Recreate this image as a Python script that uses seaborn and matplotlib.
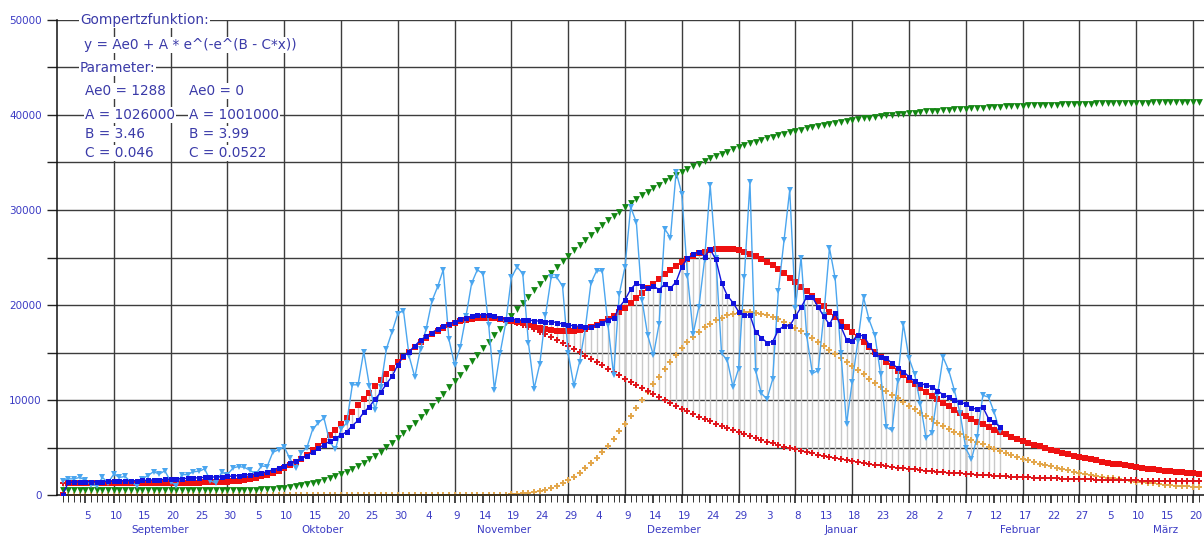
import numpy as np
import pandas as pd
import matplotlib
matplotlib.use("Agg")
import matplotlib.pyplot as plt
import matplotlib.transforms as mtransforms
import seaborn as sns

# ---------------- data ----------------
# day index: 1 = 1 September 2020
daily_cases = [
    1500, 1700, 1700, 1850, 1550, 1100, 950, 1850, 1300, 2200,
    1850, 1950, 1350, 1000, 1700, 2050, 2450, 2200, 2550, 1400,
    1000, 2150, 2150, 2450, 2500, 2750, 1500, 1250, 2400, 2150,
    2850, 3000, 2900, 2600, 2200, 3050, 3000, 4500, 4750, 5050,
    3850, 2800, 4450, 5000, 6900, 7600, 8100, 5600, 4800, 6900,
    7600, 11600, 11600, 15100, 11500, 9000, 11400, 15400, 17200, 19100,
    19400, 14600, 12400, 15400, 17500, 20400, 21900, 23700, 16400, 13700,
    15600, 18800, 22300, 23700, 23300, 17900, 11100, 14900, 18100, 22900,
    24000, 23300, 16000, 11200, 13800, 18900, 22900, 22900, 22000, 14900,
    11500, 14000, 17500, 22300, 23600, 23600, 17900, 12600, 21200, 24000,
    30300, 28700, 20500, 16800, 14700, 18000, 28000, 27100, 34000, 31700,
    23100, 17000, 19800, 24700, 32600, 24900, 14900, 14200, 11400, 13300,
    22900, 32900, 13100, 10700, 10100, 12200, 21500, 26800, 32100, 19700,
    25000, 16700, 12800, 13100, 18900, 26000, 22800, 15000, 7500, 11900,
    16200, 20800, 18400, 16800, 12700, 7150, 6800, 12000, 18000, 14400,
    12700, 9600, 6000, 6500, 10500, 14500, 13100, 11000, 8600, 4900,
    3750, 6100, 10500, 10300, 8700, 6700,
]

avg7 = [
    0, 1350, 1350, 1380, 1400, 1400, 1400, 1420, 1430, 1450,
    1480, 1500, 1500, 1500, 1530, 1560, 1600, 1630, 1660, 1680,
    1700, 1720, 1750, 1780, 1820, 1860, 1880, 1900, 1930, 1950,
    2000, 2050, 2100, 2150, 2200, 2300, 2450, 2650, 2850, 3100,
    3350, 3550, 3850, 4150, 4500, 4900, 5300, 5650, 5950, 6300,
    6650, 7300, 7850, 8700, 9300, 10100, 10800, 11700, 12500, 13700,
    14600, 15100, 15700, 16300, 16700, 17100, 17450, 17800, 18000, 18250,
    18500, 18650, 18800, 19000, 18950, 19000, 18800, 18650, 18550, 18550,
    18450, 18400, 18400, 18350, 18300, 18250, 18250, 18150, 18000, 17900,
    17800, 17750, 17650, 17700, 17900, 18100, 18450, 18600, 19750, 20550,
    21650, 22300, 22000, 21750, 22000, 21600, 22200, 21750, 22450, 24050,
    24900, 25350, 25600, 25100, 25850, 24800, 22350, 21000, 20250, 19300,
    18950, 18950, 17150, 16550, 16050, 16150, 17350, 17800, 17800, 18800,
    19750, 20850, 20800, 19800, 18800, 17950, 19150, 17750, 16350, 16200,
    16850, 16750, 15800, 14800, 14550, 14400, 13850, 13350, 13000, 12450,
    11950, 11700, 11600, 11400, 11000, 10550, 10300, 10000, 9750, 9600,
    9150, 9050, 9250, 8050, 7650, 7200,
]

fit_total = [
    0, 1288, 1288, 1288, 1288, 1288, 1288, 1288, 1288, 1288,
    1288, 1288, 1288, 1288, 1288, 1288, 1288, 1288, 1288, 1289,
    1291, 1293, 1296, 1301, 1308, 1318, 1332, 1352, 1379, 1414,
    1461, 1521, 1597, 1692, 1807, 1948, 2116, 2314, 2546, 2812,
    3115, 3455, 3833, 4250, 4706, 5202, 5726, 6287, 6875, 7485,
    8120, 8770, 9433, 10100, 10774, 11439, 12098, 12740, 13368, 13974,
    14553, 15098, 15618, 16095, 16534, 16936, 17295, 17610, 17885, 18117,
    18306, 18451, 18561, 18626, 18657, 18652, 18614, 18548, 18454, 18340,
    18208, 18066, 17917, 17767, 17625, 17496, 17383, 17304, 17256, 17242,
    17270, 17350, 17482, 17663, 17893, 18173, 18498, 18885, 19294, 19736,
    20208, 20706, 21225, 21738, 22246, 22739, 23222, 23692, 24116, 24507,
    24854, 25163, 25425, 25629, 25780, 25880, 25926, 25920, 25863, 25751,
    25590, 25386, 25137, 24846, 24520, 24158, 23765, 23337, 22890, 22420,
    21934, 21430, 20907, 20380, 19845, 19308, 18765, 18215, 17671, 17133,
    16597, 16070, 15538, 15024, 14519, 14024, 13539, 13058, 12597, 12147,
    11707, 11283, 10863, 10466, 10078, 9704, 9344, 8989, 8654, 8332,
    8019, 7721, 7428, 7152, 6885, 6631, 6385, 6151, 5925, 5712,
    5505, 5306, 5117, 4935, 4765, 4601, 4441, 4291, 4145, 4009,
    3878, 3757, 3635, 3524, 3415, 3312, 3211, 3120, 3030, 2945,
    2863, 2787, 2712, 2641, 2577, 2512, 2453, 2396, 2343, 2292,
    2244,
]

fit_wave1 = [
    1288, 1288, 1288, 1288, 1288, 1288, 1288, 1288, 1288, 1288,
    1288, 1288, 1288, 1288, 1288, 1288, 1288, 1288, 1288, 1289,
    1291, 1293, 1296, 1301, 1308, 1318, 1332, 1352, 1379, 1414,
    1461, 1521, 1597, 1692, 1807, 1948, 2116, 2314, 2546, 2812,
    3115, 3455, 3833, 4250, 4706, 5202, 5726, 6287, 6875, 7485,
    8120, 8770, 9433, 10100, 10774, 11439, 12098, 12740, 13368, 13974,
    14553, 15098, 15618, 16095, 16534, 16936, 17295, 17610, 17885, 18117,
    18306, 18451, 18559, 18622, 18650, 18640, 18594, 18515, 18404, 18264,
    18096, 17905, 17687, 17450, 17194, 16921, 16632, 16330, 16018, 15694,
    15363, 15027, 14684, 14340, 13990, 13641, 13291, 12942, 12595, 12250,
    11908, 11572, 11239, 10912, 10589, 10274, 9964, 9662, 9364, 9075,
    8792, 8519, 8251, 7991, 7737, 7491, 7253, 7022, 6801, 6585,
    6374, 6171, 5977, 5788, 5608, 5433, 5264, 5100, 4943, 4792,
    4647, 4507, 4373, 4243, 4118, 3999, 3884, 3774, 3668, 3566,
    3469, 3376, 3286, 3200, 3117, 3038, 2963, 2890, 2820, 2753,
    2689, 2628, 2569, 2514, 2460, 2409, 2359, 2312, 2267, 2224,
    2182, 2143, 2105, 2070, 2034, 2001, 1970, 1940, 1911, 1884,
    1857, 1832, 1807, 1784, 1762, 1741, 1721, 1702, 1683, 1666,
    1649, 1633, 1617, 1603, 1589, 1575, 1562, 1550, 1538, 1527,
    1516, 1506, 1496, 1487, 1478, 1469, 1461, 1453, 1446, 1439,
    1432,
]

fit_wave2 = [
    0, 0, 0, 0, 0, 0, 0, 0, 0, 0,
    0, 0, 0, 0, 0, 0, 0, 0, 0, 0,
    0, 0, 0, 0, 0, 0, 0, 0, 0, 0,
    0, 0, 0, 0, 0, 0, 0, 0, 0, 0,
    0, 0, 0, 0, 0, 0, 0, 0, 0, 0,
    0, 0, 0, 0, 0, 0, 0, 0, 0, 0,
    0, 0, 0, 0, 0, 0, 0, 0, 0, 0,
    0, 0, 2, 4, 7, 12, 20, 33, 50, 76,
    112, 161, 230, 317, 431, 575, 751, 974, 1238, 1548,
    1907, 2323, 2798, 3323, 3903, 4532, 5207, 5943, 6699, 7486,
    8300, 9134, 9986, 10826, 11657, 12465, 13258, 14030, 14752, 15432,
    16062, 16644, 17174, 17638, 18043, 18389, 18673, 18898, 19062, 19166,
    19216, 19215, 19160, 19058, 18912, 18725, 18501, 18237, 17947, 17628,
    17287, 16923, 16534, 16137, 15727, 15309, 14881, 14441, 14003, 13567,
    13128, 12694, 12252, 11824, 11402, 10986, 10576, 10168, 9777, 9394,
    9018, 8655, 8294, 7952, 7618, 7295, 6985, 6677, 6387, 6108,
    5837, 5578, 5323, 5082, 4851, 4630, 4415, 4211, 4014, 3828,
    3648, 3474, 3310, 3151, 3003, 2860, 2720, 2589, 2462, 2343,
    2229, 2124, 2018, 1921, 1826, 1737, 1649, 1570, 1492, 1418,
    1347, 1281, 1216, 1154, 1099, 1043, 992, 943, 897, 853,
    812,
]

cumulative_scaled = [
    500, 500, 500, 500, 500, 500, 500, 500, 500, 500,
    500, 500, 500, 500, 500, 500, 500, 500, 500, 500,
    500, 500, 501, 501, 502, 503, 504, 506, 509, 514,
    520, 528, 538, 553, 571, 594, 624, 661, 706, 762,
    829, 908, 1002, 1112, 1240, 1387, 1553, 1742, 1953, 2188,
    2448, 2734, 3046, 3384, 3751, 4142, 4561, 5006, 5476, 5972,
    6493, 7031, 7597, 8179, 8778, 9397, 10031, 10672, 11333, 12003,
    12677, 13353, 14053, 14732, 15433, 16127, 16818, 17508, 18194, 18877,
    19552, 20221, 20880, 21531, 22171, 22800, 23419, 24027, 24621, 25204,
    25774, 26328, 26872, 27399, 27915, 28416, 28903, 29375, 29831, 30277,
    30708, 31126, 31530, 31920, 32300, 32664, 33017, 33357, 33687, 34004,
    34310, 34603, 34887, 35159, 35424, 35676, 35920, 36154, 36376, 36592,
    36802, 37002, 37193, 37377, 37550, 37719, 37882, 38038, 38187, 38331,
    38467, 38598, 38724, 38846, 38961, 39072, 39178, 39279, 39377, 39470,
    39559, 39644, 39726, 39804, 39878, 39950, 40018, 40084, 40147, 40206,
    40263, 40318, 40371, 40421, 40469, 40514, 40559, 40600, 40640, 40678,
    40715, 40750, 40784, 40815, 40846, 40876, 40903, 40930, 40956, 40980,
    41003, 41025, 41046, 41067, 41086, 41104, 41122, 41139, 41155, 41170,
    41185, 41199, 41213, 41225, 41238, 41250, 41261, 41272, 41282, 41292,
    41301, 41310, 41318, 41326, 41334, 41341, 41348, 41355, 41361, 41367,
    41373,
]

day_labels = (["5", "10", "15", "20", "25", "30"] + ["5", "10", "15", "20", "25", "30"]
              + ["4", "9", "14", "19", "24", "29"] + ["4", "9", "14", "19", "24", "29"]
              + ["3", "8", "13", "18", "23", "28"] + ["2", "7", "12", "17", "22", "27"]
              + ["5", "10", "15", "20"])
month_names = ["September", "Oktober", "November", "Dezember", "Januar", "Februar", "März"]
month_label_pos = [18.1, 46.8, 78.7, 108.6, 138.0, 169.5, 195.2]

y_labels = ["0", "10000", "20000", "30000", "40000", "50000"]

# ---------------- frames ----------------
obs = pd.DataFrame({"day": np.arange(1, len(daily_cases) + 1),
                    "daily": daily_cases, "avg7": avg7})
fit = pd.DataFrame({"day": np.arange(1, len(fit_total) + 1),
                    "total": fit_total, "wave1": fit_wave1,
                    "wave2": fit_wave2, "cum": cumulative_scaled})

# ---------------- style ----------------
sns.set_style("white")
plt.rcParams["font.family"] = ["DejaVu Sans"]

W, H = 1204, 537
fig = plt.figure(figsize=(W / 100, H / 100), dpi=100)
ax = fig.add_axes([57 / W, 42 / H, (W - 57) / W, 475 / H])
ax.set_xlim(0, 1147 / 5.68)
ax.set_ylim(0, 50000)

label_color = "#3b3bc4"
grid_color = "#3c3c3c"

# grid
for xv in range(10, 202, 10):
    ax.axvline(xv, color=grid_color, lw=1.0, zorder=0.5)
for yv in range(5000, 50001, 5000):
    ax.axhline(yv, color=grid_color, lw=1.0, zorder=0.5)

# stems between first-wave fit and 7-day average
stem_base = fit.set_index("day").loc[obs["day"], "wave1"].values
ax.vlines(obs["day"], stem_base, obs["avg7"], colors="#c9c9c9", lw=1.0, zorder=1)

# series
sns.scatterplot(data=fit, x="day", y="wave2", marker="P", s=16, color="#e3a74c",
                linewidth=0, legend=False, ax=ax, zorder=2)
sns.scatterplot(data=fit, x="day", y="wave1", marker="P", s=16, color="#e0161c",
                linewidth=0, legend=False, ax=ax, zorder=2.2)
sns.scatterplot(data=fit, x="day", y="cum", marker="v", s=24, color="#138613",
                linewidth=0, legend=False, ax=ax, zorder=2.4)
sns.scatterplot(data=fit, x="day", y="total", marker="s", s=17, color="#ee1111",
                linewidth=0, legend=False, ax=ax, zorder=3)
sns.lineplot(data=obs, x="day", y="daily", color="#4ba6ef", lw=1.0, marker="v",
             markersize=4.6, markeredgewidth=0, estimator=None, sort=False,
             legend=False, ax=ax, zorder=4)
sns.lineplot(data=obs, x="day", y="avg7", color="#1212dd", lw=1.0, marker="s",
             markersize=3.6, markeredgewidth=0, estimator=None, sort=False,
             legend=False, ax=ax, zorder=5)

ax.set_xlabel("")
ax.set_ylabel("")

# spines
for side in ["top", "right"]:
    ax.spines[side].set_visible(False)
for side in ["left", "bottom"]:
    ax.spines[side].set_visible(True)
    ax.spines[side].set_color("#111111")
    ax.spines[side].set_linewidth(1.1)

# y ticks
ax.set_yticks(np.arange(0, 50001, 10000))
ax.set_yticklabels(y_labels)
ax.set_yticks(np.arange(5000, 50000, 10000), minor=True)
ax.tick_params(axis="y", which="both", left=True, length=7.5, width=1.0,
               color="#222222", direction="out", pad=3.5,
               labelsize=7.5, labelcolor=label_color)

# x ticks
major_days = list(range(5, 201, 5))
ax.set_xticks(major_days)
ax.set_xticklabels(day_labels)
ax.set_xticks(np.arange(1, 202, 1), minor=True)
ax.tick_params(axis="x", which="major", bottom=True, length=6, width=1.1,
               color="#111111", direction="out", pad=5.5,
               labelsize=7.5, labelcolor=label_color)
ax.tick_params(axis="x", which="minor", bottom=True, length=5, width=0.7,
               color="#333333", direction="out")
shift = mtransforms.ScaledTranslation(2.5 / 100, 0, fig.dpi_scale_trans)
for lab in ax.get_xticklabels():
    lab.set_transform(lab.get_transform() + shift)

trans = mtransforms.blended_transform_factory(ax.transData, ax.transAxes)
for name, pos in zip(month_names, month_label_pos):
    ax.text(pos, -35 / 475, name, transform=trans, ha="center", va="center",
            fontsize=7.5, color=label_color)

# annotation block
txt_color = "#3a3aa8"
box = dict(facecolor="white", edgecolor="none", pad=0.6)
def ftext(px, py, s):
    fig.text(px / W, 1 - py / H, s, ha="left", va="center", fontsize=9.8,
             color=txt_color, bbox=box, zorder=10)

ftext(80, 20, "Gompertzfunktion:")
ftext(84, 45, "y = Ae0 + A * e^(-e^(B - C*x))")
ftext(80, 68, "Parameter:")
ftext(85, 91, "Ae0 = 1288")
ftext(189, 91, "Ae0 = 0")
ftext(85, 115, "A = 1026000")
ftext(189, 115, "A = 1001000")
ftext(85, 134, "B = 3.46")
ftext(189, 134, "B = 3.99")
ftext(85, 153, "C = 0.046")
ftext(189, 153, "C = 0.0522")

fig.savefig("out.png", dpi=100)
